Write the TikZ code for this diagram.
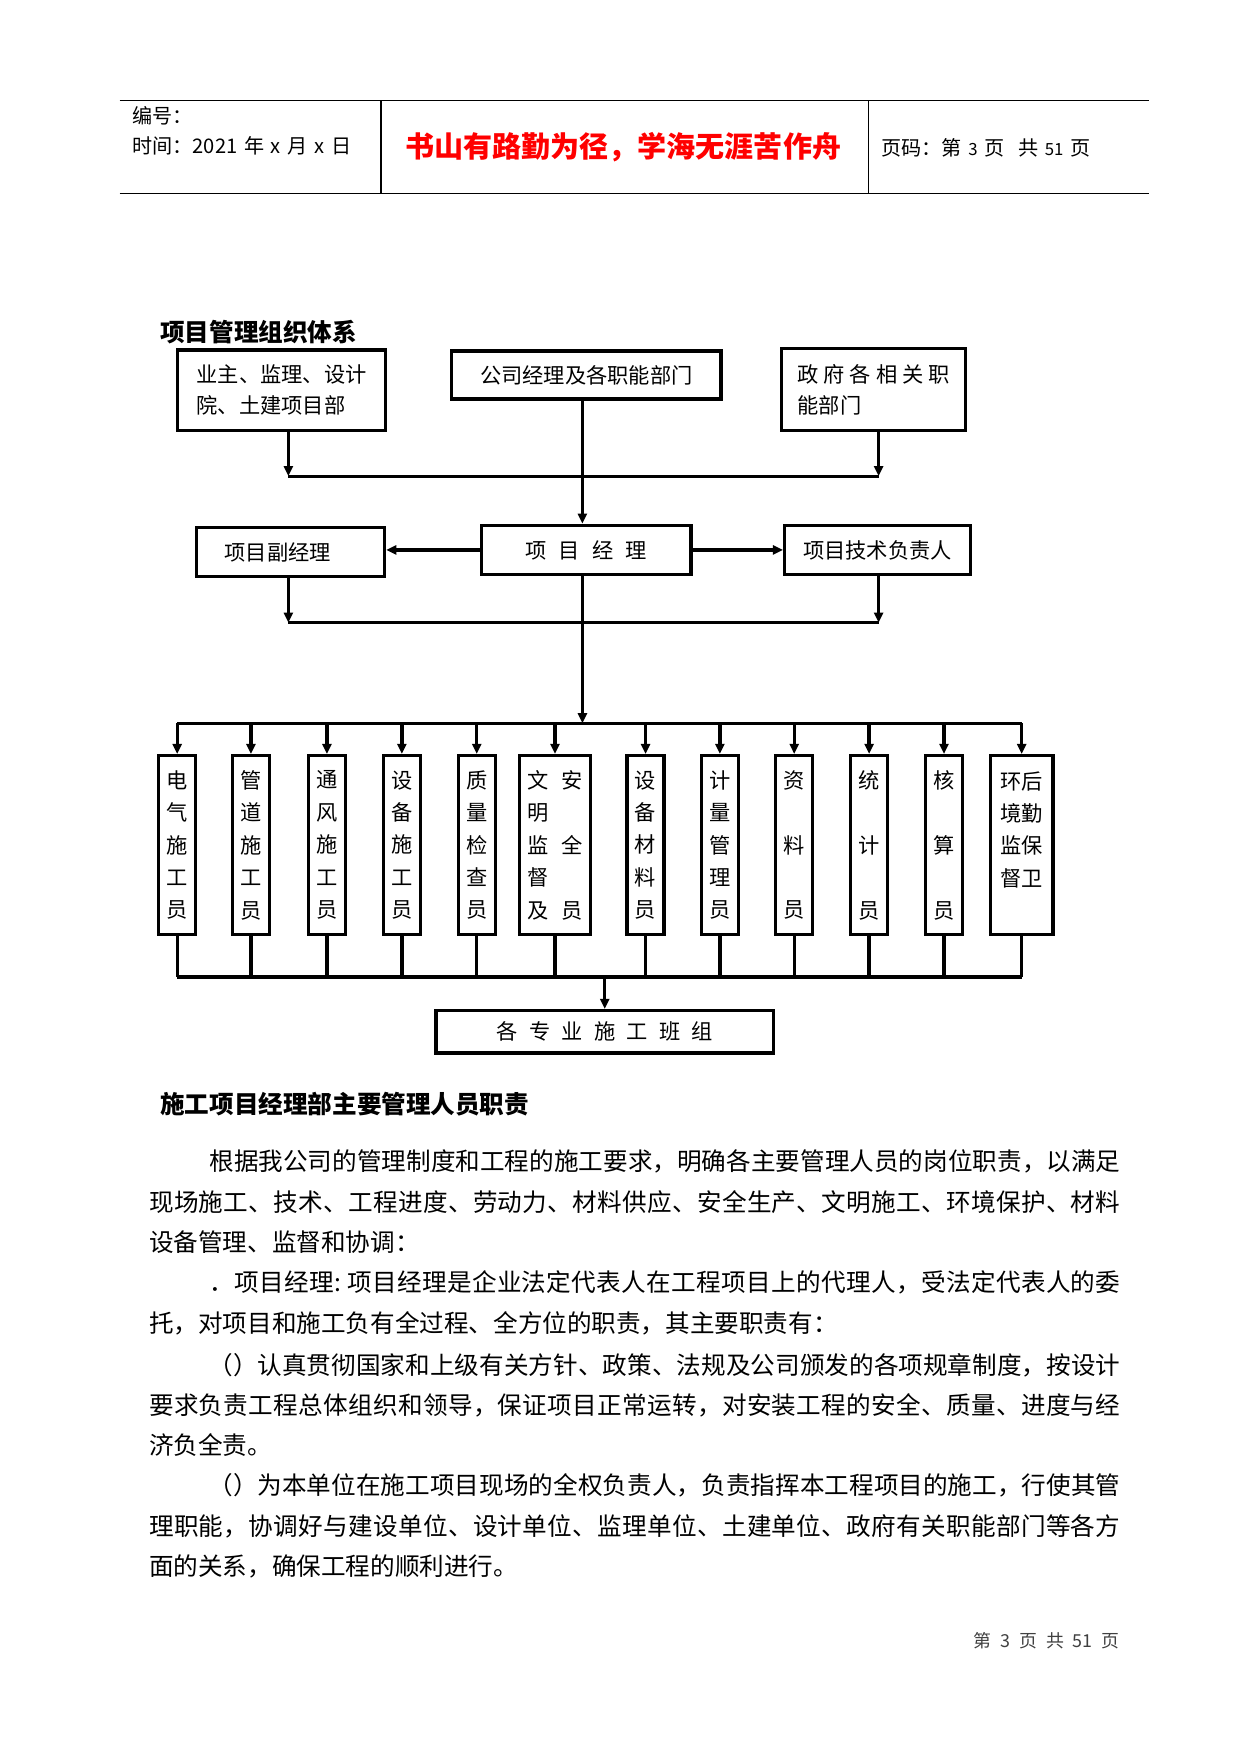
\documentclass[tikz,border=0pt]{standalone}
\usepackage{fontspec}
\setmainfont{Noto Sans CJK SC}
\usetikzlibrary{arrows.meta}
\makeatletter
\newcommand\spreadline[2]{\makebox[#1][s]{\@tfor\sp@ch:=#2\do{\sp@ch\hskip 0pt plus 1fil}\unskip}}
\makeatother
\begin{document}
\begin{tikzpicture}[x=0.5pt,y=-0.5pt,
  box/.style={draw, line width=1.5pt, inner sep=0pt, font=\fontsize{9.5}{14}\selectfont},
  col/.style={box, minimum width=16.5pt, minimum height=80pt, align=center, font=\fontsize{9.5}{14.5}\selectfont},
  conn/.style={line width=1.5pt},
  arr/.style={conn, -{Triangle[length=4.5pt,width=4pt]}},
  hdr/.style={line width=0.7pt},
  body/.style={anchor=west, inner sep=0pt, font=\fontsize{11}{11}\selectfont},
  lbl/.style={anchor=west, inner sep=0pt},
]
\useasboundingbox (0,0) rectangle (1110,1570);

% header
\draw[hdr] (107,90) -- (1028,90);
\draw[hdr] (107,173) -- (1028,173);
\draw[hdr] (341,90) -- (341,173);
\draw[hdr] (777,90) -- (777,173);
\node[lbl, font=\fontsize{9}{9}\selectfont] (h1) at (118,104) {编号：};
\node[lbl, font=\fontsize{9}{9}\selectfont] (h2) at (118,130) {时间：2021\hspace{3pt}年\hspace{3pt}x\hspace{3pt}月\hspace{3pt}x\hspace{3pt}日};
\node[inner sep=0pt, font=\fontsize{13}{13}\selectfont\bfseries, text=red] (h3) at (557.5,132) {书山有路勤为径，学海无涯苦作舟};
\node[lbl, font=\fontsize{9}{9}\selectfont] (h4) at (788,132) {页码：第\hspace{3pt}{\fontsize{7.5}{7.5}\selectfont 3}\hspace{3pt}页\hspace{6pt}共\hspace{3pt}{\fontsize{7.5}{7.5}\selectfont 51}\hspace{3pt}页};

% title
\node[lbl, font=\fontsize{11}{11}\selectfont\bfseries] (t1) at (143,297) {项目管理组织体系};

% top boxes
\node[box, minimum width=93pt, minimum height=36pt, align=left] (b1) at (252,349) {业主、监理、设计\\院、土建项目部};
\node[box, minimum width=120.5pt, minimum height=21.5pt] (b2) at (524.5,335.5) {公司经理及各职能部门};
\node[box, minimum width=82.5pt, minimum height=36.5pt, align=left] (b3) at (781.5,348.5) {\makebox[68pt]{政\hfill 府\hfill 各\hfill 相\hfill 关\hfill 职}\\能部门};

\node[box, minimum width=93.5pt, minimum height=22pt] (b4) at (524.5,492) {\makebox[54.5pt]{项\hfill 目\hfill 经\hfill 理}};
\node[box, minimum width=84pt, minimum height=22pt] (b5) at (260,494) {项目副经理\hspace*{11.5pt}};
\node[box, minimum width=83pt, minimum height=22pt] (b6) at (785,492) {项目技术负责人};

\coordinate (j1) at (258,426);
\coordinate (j3) at (786,426);
\coordinate (m) at (521,426);
\draw[arr] (j1 |- b1.south) -- (j1);
\draw[arr] (j3 |- b3.south) -- (j3);
\draw[conn] (j1) -- (j3);
\draw[arr] (m |- b2.south) -- (m |- b4.north);
\draw[arr] (b4.west) -- (b5.east |- b4.west);
\draw[arr] (b4.east) -- (b6.west |- b4.east);

\coordinate (j5) at (258,557);
\coordinate (j6) at (786,557);
\draw[arr] (j5 |- b5.south) -- (j5);
\draw[arr] (j6 |- b6.south) -- (j6);
\draw[conn] (j5) -- (j6);

% columns
\node[col] (c1) at (158.5,756) {电\\气\\施\\工\\员};
\node[col] (c2) at (224.5,756) {管\\道\\施\\工\\员};
\node[col] (c3) at (292.5,756) {通\\风\\施\\工\\员};
\node[col] (c4) at (359.5,756) {设\\备\\施\\工\\员};
\node[col] (c5) at (426.5,756) {质\\量\\检\\查\\员};
\node[col, minimum width=31.5pt] (c6) at (496.5,756) {文\hspace{5.5pt}安\\明\hspace{5.5pt}\phantom{安}\\监\hspace{5.5pt}全\\督\hspace{5.5pt}\phantom{安}\\及\hspace{5.5pt}员};
\node[col] (c7) at (577.5,756) {设\\备\\材\\料\\员};
\node[col] (c8) at (644,756) {计\\量\\管\\理\\员};
\node[col] (c9) at (710.5,756) {资\\\mbox{}\\料\\\mbox{}\\员};
\node[col] (c10) at (777.5,756) {统\\\mbox{}\\计\\\mbox{}\\员};
\node[col] (c11) at (844.5,756) {核\\\mbox{}\\算\\\mbox{}\\员};
\node[col, minimum width=28pt] (c12) at (914,756) {环后\\境勤\\监保\\督卫\\\mbox{}};

\coordinate (m2) at (521,647);
\draw[arr] (m |- b4.south) -- (m2);
\coordinate (ta) at (158.5,647);
\coordinate (tb) at (914,647);
\draw[conn] (ta) -- (tb);
\foreach \i in {1,...,12} {
  \draw[arr] (c\i.north |- ta) -- (c\i.north);
}
\coordinate (ua) at (158.5,874);
\coordinate (ub) at (914,874);
\foreach \i in {1,...,12} {
  \draw[conn] (c\i.south) -- (c\i.south |- ua);
}
\draw[conn] (ua) -- (ub);

\node[box, minimum width=151pt, minimum height=19pt] (bt) at (541,923) {\makebox[96.75pt]{各\hfill 专\hfill 业\hfill 施\hfill 工\hfill 班\hfill 组}};
\coordinate (ud) at (541,874);
\draw[arr] (ud) -- (bt.north);

% section text
\node[lbl, font=\fontsize{11}{11}\selectfont\bfseries] (t2) at (143,988) {施工项目经理部主要管理人员职责};

\node[body] (l1) at (187,1039) {\spreadline{407.5pt}{根据我公司的管理制度和工程的施工要求，明确各主要管理人员的岗位职责，以满足}};
\node[body] (l2) at (133,1075) {\spreadline{434.5pt}{现场施工、技术、工程进度、劳动力、材料供应、安全生产、文明施工、环境保护、材料}};
\node[body] (l3) at (133,1111) {设备管理、监督和协调：};
\node[body] (l4) at (187,1147) {\spreadline{407.5pt}{．项目经理:{\ }项目经理是企业法定代表人在工程项目上的代理人，受法定代表人的委}};
\node[body] (l5) at (133,1184) {托，对项目和施工负有全过程、全方位的职责，其主要职责有：};
\node[body] (l6) at (186,1221) {\spreadline{408pt}{（）认真贯彻国家和上级有关方针、政策、法规及公司颁发的各项规章制度，按设计}};
\node[body] (l7) at (133,1257) {\spreadline{434.5pt}{要求负责工程总体组织和领导，保证项目正常运转，对安装工程的安全、质量、进度与经}};
\node[body] (l8) at (133,1293) {济负全责。};
\node[body] (l9) at (186,1329) {\spreadline{408pt}{（）为本单位在施工项目现场的全权负责人，负责指挥本工程项目的施工，行使其管}};
\node[body] (l10) at (133,1365) {\spreadline{434.5pt}{理职能，协调好与建设单位、设计单位、监理单位、土建单位、政府有关职能部门等各方}};
\node[body] (l11) at (133,1401) {面的关系，确保工程的顺利进行。};

\node[anchor=east, inner sep=0pt, font=\fontsize{8}{8}\selectfont, text=black!75] (ft) at (1002,1468) {第\hspace{4pt}3\hspace{4pt}页\hspace{4pt}共\hspace{4pt}51\hspace{4pt}页};
\end{tikzpicture}
\end{document}
